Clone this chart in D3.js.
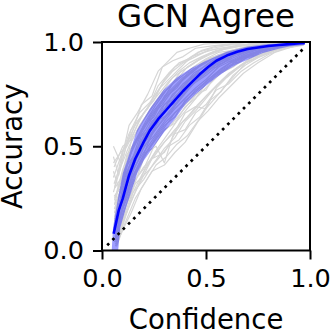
<!DOCTYPE html>
<html>
<head>
<meta charset="utf-8">
<script src="https://cdn.jsdelivr.net/npm/d3@7"></script>
<style>
  html, body { margin: 0; padding: 0; background: #fff; }
  svg { display: block; font-family: "DejaVu Sans", sans-serif; }
</style>
</head>
<body>
<svg id="chart" width="333" height="336"></svg>
<script>
// Reliability curves of individual runs: [confidence, accuracy]
const runCurves = [
  [[0.055,0.50],[0.09,0.42],[0.13,0.60],[0.17,0.66],[0.22,0.75],[0.27,0.86],[0.31,0.90],[0.36,0.95],[0.42,0.97],[0.49,0.99],[0.57,0.995],[0.66,1.0],[0.78,1.0],[0.97,1.0]],
  [[0.06,0.30],[0.1,0.48],[0.14,0.55],[0.19,0.70],[0.24,0.74],[0.29,0.88],[0.34,0.91],[0.39,0.93],[0.45,0.97],[0.52,0.98],[0.6,0.99],[0.7,1.0],[0.82,1.0],[0.97,1.0]],
  [[0.065,0.02],[0.1,0.10],[0.14,0.18],[0.19,0.30],[0.24,0.38],[0.30,0.41],[0.35,0.47],[0.40,0.52],[0.45,0.60],[0.50,0.68],[0.56,0.75],[0.62,0.82],[0.69,0.90],[0.76,0.93],[0.83,0.96],[0.9,0.98],[0.97,0.99]],
  [[0.06,0.05],[0.1,0.20],[0.15,0.32],[0.2,0.40],[0.25,0.45],[0.30,0.52],[0.35,0.58],[0.41,0.64],[0.46,0.70],[0.52,0.76],[0.58,0.82],[0.64,0.87],[0.71,0.92],[0.79,0.95],[0.87,0.97],[0.97,0.99]],
  [[0.055,0.38],[0.08,0.30],[0.12,0.46],[0.16,0.52],[0.21,0.62],[0.26,0.70],[0.31,0.77],[0.36,0.82],[0.41,0.88],[0.47,0.92],[0.53,0.95],[0.6,0.97],[0.68,0.985],[0.78,0.99],[0.9,1.0],[0.97,1.0]],
  [[0.06,0.12],[0.1,0.30],[0.14,0.38],[0.19,0.50],[0.23,0.55],[0.28,0.63],[0.33,0.66],[0.38,0.74],[0.43,0.79],[0.48,0.84],[0.54,0.89],[0.6,0.92],[0.67,0.95],[0.75,0.97],[0.84,0.985],[0.97,0.995]],
  [[0.058,0.20],[0.09,0.22],[0.13,0.40],[0.18,0.47],[0.22,0.58],[0.27,0.64],[0.32,0.70],[0.37,0.75],[0.43,0.83],[0.49,0.86],[0.55,0.92],[0.62,0.94],[0.7,0.97],[0.79,0.98],[0.88,0.99],[0.97,1.0]],
  [[0.065,0.08],[0.11,0.24],[0.16,0.36],[0.21,0.47],[0.26,0.50],[0.30,0.42],[0.34,0.55],[0.39,0.62],[0.44,0.67],[0.5,0.74],[0.56,0.80],[0.62,0.85],[0.69,0.90],[0.77,0.94],[0.86,0.97],[0.97,0.99]],
  [[0.06,0.25],[0.1,0.35],[0.15,0.50],[0.19,0.57],[0.24,0.66],[0.29,0.72],[0.34,0.80],[0.39,0.84],[0.44,0.88],[0.5,0.92],[0.56,0.95],[0.63,0.96],[0.7,0.98],[0.79,0.99],[0.88,0.995],[0.97,1.0]],
  [[0.06,0.15],[0.1,0.28],[0.15,0.44],[0.2,0.51],[0.25,0.58],[0.3,0.68],[0.36,0.71],[0.41,0.79],[0.46,0.83],[0.52,0.88],[0.58,0.90],[0.64,0.94],[0.71,0.96],[0.78,0.975],[0.87,0.99],[0.97,0.995]],
  [[0.06,0.10],[0.1,0.26],[0.15,0.40],[0.2,0.53],[0.25,0.62],[0.3,0.66],[0.35,0.74],[0.4,0.78],[0.45,0.84],[0.5,0.87],[0.55,0.88],[0.6,0.91],[0.65,0.90],[0.70,0.94],[0.75,0.93],[0.8,0.97],[0.88,0.98],[0.97,0.99]],
  [[0.07,0.03],[0.11,0.16],[0.16,0.28],[0.21,0.40],[0.26,0.48],[0.31,0.55],[0.36,0.62],[0.41,0.68],[0.46,0.74],[0.51,0.79],[0.57,0.85],[0.63,0.88],[0.7,0.93],[0.78,0.96],[0.86,0.98],[0.97,0.995]],
  [[0.055,0.45],[0.08,0.36],[0.12,0.52],[0.17,0.62],[0.22,0.68],[0.27,0.79],[0.32,0.85],[0.37,0.90],[0.42,0.92],[0.48,0.96],[0.55,0.98],[0.63,0.99],[0.72,1.0],[0.85,1.0],[0.97,1.0]],
  [[0.06,0.18],[0.1,0.33],[0.14,0.47],[0.18,0.55],[0.23,0.63],[0.28,0.71],[0.33,0.76],[0.38,0.81],[0.44,0.86],[0.49,0.90],[0.55,0.93],[0.62,0.96],[0.69,0.975],[0.77,0.985],[0.86,0.99],[0.97,1.0]],
  [[0.065,0.06],[0.1,0.18],[0.15,0.30],[0.2,0.44],[0.25,0.53],[0.3,0.60],[0.35,0.64],[0.4,0.72],[0.45,0.76],[0.51,0.82],[0.57,0.87],[0.63,0.91],[0.7,0.94],[0.78,0.965],[0.87,0.98],[0.97,0.99]],
  [[0.06,0.22],[0.1,0.38],[0.15,0.45],[0.2,0.60],[0.25,0.64],[0.3,0.74],[0.34,0.78],[0.39,0.83],[0.44,0.86],[0.49,0.91],[0.54,0.93],[0.6,0.95],[0.66,0.94],[0.72,0.965],[0.8,0.975],[0.88,0.99],[0.97,1.0]],
  [[0.06,0.14],[0.1,0.24],[0.15,0.36],[0.2,0.46],[0.24,0.56],[0.29,0.62],[0.34,0.68],[0.39,0.74],[0.44,0.80],[0.5,0.84],[0.56,0.89],[0.62,0.92],[0.69,0.95],[0.77,0.97],[0.86,0.985],[0.97,0.995]],
  [[0.058,0.32],[0.1,0.44],[0.14,0.58],[0.19,0.64],[0.24,0.72],[0.29,0.80],[0.34,0.86],[0.39,0.90],[0.45,0.93],[0.51,0.96],[0.58,0.97],[0.66,0.985],[0.75,0.99],[0.86,1.0],[0.97,1.0]],
  [[0.06,0.04],[0.09,0.12],[0.14,0.26],[0.19,0.36],[0.24,0.44],[0.3,0.47],[0.35,0.56],[0.4,0.58],[0.45,0.66],[0.5,0.70],[0.55,0.77],[0.61,0.80],[0.67,0.86],[0.73,0.90],[0.8,0.94],[0.88,0.97],[0.97,0.99]],
  [[0.06,0.08],[0.1,0.22],[0.15,0.38],[0.2,0.49],[0.25,0.57],[0.3,0.64],[0.35,0.70],[0.4,0.76],[0.45,0.81],[0.5,0.85],[0.56,0.90],[0.62,0.93],[0.68,0.96],[0.76,0.975],[0.85,0.985],[0.97,0.995]],
  [[0.06,0.16],[0.1,0.27],[0.15,0.42],[0.2,0.55],[0.25,0.60],[0.3,0.70],[0.35,0.73],[0.4,0.80],[0.46,0.85],[0.52,0.87],[0.58,0.92],[0.64,0.91],[0.7,0.95],[0.76,0.94],[0.82,0.975],[0.9,0.985],[0.97,0.995]],
  [[0.055,0.28],[0.09,0.40],[0.13,0.50],[0.18,0.60],[0.23,0.67],[0.28,0.74],[0.33,0.79],[0.38,0.86],[0.43,0.89],[0.49,0.93],[0.55,0.955],[0.62,0.975],[0.7,0.985],[0.8,0.995],[0.97,1.0]],
  [[0.065,0.04],[0.1,0.14],[0.15,0.26],[0.2,0.36],[0.25,0.46],[0.3,0.52],[0.35,0.57],[0.4,0.66],[0.45,0.69],[0.5,0.68],[0.55,0.78],[0.6,0.83],[0.66,0.88],[0.73,0.93],[0.81,0.96],[0.9,0.98],[0.97,0.99]],
  [[0.06,0.20],[0.1,0.32],[0.14,0.43],[0.19,0.53],[0.24,0.61],[0.29,0.69],[0.34,0.74],[0.39,0.80],[0.44,0.84],[0.5,0.89],[0.56,0.93],[0.62,0.95],[0.69,0.97],[0.77,0.98],[0.86,0.99],[0.97,1.0]],
  [[0.055,0.42],[0.09,0.47],[0.12,0.50],[0.16,0.58],[0.2,0.66],[0.25,0.72],[0.3,0.82],[0.35,0.88],[0.4,0.91],[0.46,0.95],[0.53,0.97],[0.61,0.985],[0.7,0.99],[0.82,1.0],[0.97,1.0]],
  [[0.06,0.10],[0.1,0.20],[0.14,0.34],[0.18,0.42],[0.23,0.50],[0.28,0.56],[0.33,0.60],[0.38,0.66],[0.43,0.72],[0.48,0.78],[0.54,0.84],[0.6,0.88],[0.67,0.92],[0.75,0.955],[0.84,0.975],[0.97,0.99]],
  [[0.062,0.30],[0.1,0.36],[0.14,0.52],[0.19,0.61],[0.24,0.69],[0.29,0.76],[0.34,0.83],[0.4,0.87],[0.46,0.91],[0.52,0.94],[0.59,0.965],[0.67,0.98],[0.77,0.99],[0.88,1.0],[0.97,1.0]],
  [[0.065,0.05],[0.11,0.20],[0.16,0.32],[0.22,0.38],[0.27,0.44],[0.32,0.50],[0.37,0.53],[0.42,0.60],[0.47,0.64],[0.52,0.72],[0.57,0.76],[0.63,0.84],[0.69,0.89],[0.76,0.93],[0.85,0.965],[0.97,0.985]],
  [[0.058,0.26],[0.09,0.30],[0.13,0.45],[0.17,0.53],[0.21,0.58],[0.26,0.67],[0.31,0.74],[0.36,0.78],[0.41,0.85],[0.46,0.88],[0.51,0.92],[0.57,0.94],[0.64,0.965],[0.72,0.98],[0.83,0.99],[0.97,1.0]],
  [[0.06,0.12],[0.1,0.29],[0.15,0.41],[0.2,0.50],[0.25,0.55],[0.3,0.62],[0.35,0.68],[0.4,0.73],[0.45,0.78],[0.5,0.82],[0.56,0.88],[0.62,0.91],[0.68,0.94],[0.74,0.96],[0.82,0.98],[0.97,0.995]],
  [[0.055,0.35],[0.09,0.45],[0.13,0.56],[0.18,0.66],[0.23,0.71],[0.28,0.78],[0.33,0.83],[0.38,0.88],[0.43,0.93],[0.49,0.95],[0.56,0.97],[0.64,0.98],[0.74,0.995],[0.86,1.0],[0.97,1.0]],
  [[0.065,0.07],[0.1,0.16],[0.15,0.33],[0.2,0.39],[0.25,0.50],[0.3,0.58],[0.35,0.61],[0.4,0.69],[0.45,0.73],[0.5,0.80],[0.55,0.84],[0.61,0.88],[0.67,0.91],[0.74,0.95],[0.83,0.97],[0.97,0.99]],
  [[0.06,0.22],[0.1,0.31],[0.14,0.40],[0.19,0.55],[0.24,0.59],[0.29,0.67],[0.34,0.72],[0.39,0.77],[0.44,0.82],[0.5,0.86],[0.56,0.91],[0.62,0.93],[0.68,0.955],[0.76,0.97],[0.86,0.985],[0.97,0.995]],
  [[0.07,0.02],[0.11,0.13],[0.16,0.25],[0.21,0.33],[0.26,0.41],[0.31,0.45],[0.36,0.51],[0.41,0.55],[0.46,0.62],[0.51,0.67],[0.56,0.73],[0.62,0.79],[0.68,0.85],[0.75,0.90],[0.83,0.95],[0.91,0.975],[0.97,0.99]],
  [[0.058,0.40],[0.1,0.50],[0.14,0.53],[0.18,0.63],[0.23,0.70],[0.28,0.76],[0.32,0.81],[0.37,0.86],[0.42,0.90],[0.48,0.93],[0.55,0.96],[0.62,0.975],[0.71,0.99],[0.83,1.0],[0.97,1.0]],
  [[0.06,0.18],[0.1,0.26],[0.15,0.39],[0.2,0.47],[0.25,0.54],[0.3,0.61],[0.35,0.66],[0.4,0.71],[0.45,0.77],[0.5,0.81],[0.56,0.86],[0.62,0.90],[0.68,0.93],[0.76,0.96],[0.85,0.98],[0.97,0.99]],
  [[0.06,0.16],[0.1,0.34],[0.14,0.42],[0.19,0.52],[0.24,0.62],[0.29,0.66],[0.34,0.75],[0.39,0.79],[0.44,0.85],[0.49,0.88],[0.55,0.92],[0.61,0.95],[0.68,0.96],[0.75,0.98],[0.84,0.99],[0.97,1.0]],
  [[0.065,0.03],[0.1,0.12],[0.15,0.28],[0.2,0.34],[0.25,0.42],[0.3,0.49],[0.35,0.54],[0.4,0.62],[0.45,0.67],[0.5,0.73],[0.55,0.79],[0.61,0.85],[0.67,0.89],[0.73,0.92],[0.8,0.955],[0.88,0.975],[0.97,0.99]],
  [[0.06,0.24],[0.1,0.39],[0.14,0.49],[0.19,0.58],[0.24,0.65],[0.29,0.70],[0.34,0.77],[0.39,0.82],[0.44,0.87],[0.5,0.9],[0.56,0.94],[0.63,0.955],[0.7,0.975],[0.79,0.985],[0.88,0.995],[0.97,1.0]],
  [[0.06,0.09],[0.1,0.21],[0.15,0.35],[0.2,0.45],[0.25,0.52],[0.3,0.59],[0.35,0.66],[0.4,0.70],[0.45,0.75],[0.5,0.77],[0.55,0.85],[0.6,0.87],[0.66,0.92],[0.72,0.93],[0.79,0.965],[0.87,0.98],[0.97,0.99]]
];

// Mean reliability curve
const meanConf = [0.056,0.08,0.10,0.13,0.16,0.20,0.23,0.27,0.31,0.35,0.39,0.43,0.47,0.51,0.55,0.60,0.65,0.70,0.75,0.80,0.85,0.90,0.95,0.975];
const meanAcc  = [0.08,0.19,0.25,0.36,0.44,0.52,0.575,0.63,0.675,0.72,0.765,0.805,0.845,0.88,0.91,0.935,0.953,0.966,0.974,0.981,0.986,0.99,0.994,0.996];

// Spread band: upper (left) edge and lower (right) edge
const bandUpper = [[0.045,-0.03],[0.053,0.11],[0.08,0.27],[0.10,0.37],[0.12,0.43],[0.168,0.577],[0.23,0.68],[0.296,0.77],[0.36,0.83],[0.43,0.875],[0.5,0.91],[0.6,0.953],[0.7,0.978],[0.8,0.99],[0.9,0.995],[0.975,0.998]];
const bandLower = [[0.075,-0.03],[0.088,0.11],[0.12,0.22],[0.144,0.29],[0.17,0.37],[0.2,0.43],[0.25,0.5],[0.3,0.57],[0.35,0.63],[0.4,0.70],[0.45,0.75],[0.5,0.79],[0.55,0.83],[0.6,0.865],[0.65,0.893],[0.7,0.915],[0.77,0.946],[0.85,0.968],[0.9,0.978],[0.975,0.986]];

// Perfect-calibration reference
const diagonal = [[0.025,0.025],[0.975,0.975]];

const tickValues = [0.0, 0.5, 1.0];
const titleText = "GCN Agree";
const xLabel = "Confidence";
const yLabel = "Accuracy";

const margin = { left: 102, right: 23, top: 42, bottom: 85.5 };
const W = 333, H = 336;
const pw = W - margin.left - margin.right;
const ph = H - margin.top - margin.bottom;

const svg = d3.select("#chart");
const x = d3.scaleLinear().domain([0, 1]).range([margin.left, margin.left + pw]);
const y = d3.scaleLinear().domain([0, 1]).range([margin.top + ph, margin.top]);

svg.append("defs").append("clipPath").attr("id", "plotClip")
  .append("rect").attr("x", margin.left).attr("y", margin.top).attr("width", pw).attr("height", ph);

const plot = svg.append("g").attr("clip-path", "url(#plotClip)");
const line = d3.line().x(d => x(d[0])).y(d => y(d[1]));

// individual runs
plot.selectAll("path.run").data(runCurves).join("path")
  .attr("class", "run")
  .attr("d", line)
  .attr("fill", "none")
  .attr("stroke", "#d6d6d6")
  .attr("stroke-width", 1.2)
  .attr("stroke-linejoin", "round");

// spread band
const bandPoly = bandUpper.concat(bandLower.slice().reverse());
plot.append("path")
  .attr("d", line(bandPoly) + "Z")
  .attr("fill", "#0000ff")
  .attr("fill-opacity", 0.38)
  .attr("stroke", "none");

// mean curve
plot.append("path")
  .attr("d", line(meanConf.map((c, i) => [c, meanAcc[i]])))
  .attr("fill", "none")
  .attr("stroke", "#0000ff")
  .attr("stroke-width", 2.6)
  .attr("stroke-linejoin", "round");

// diagonal
plot.append("path")
  .attr("d", line(diagonal))
  .attr("fill", "none")
  .attr("stroke", "#000")
  .attr("stroke-width", 2.7)
  .attr("stroke-dasharray", "2.7,4.7");

// axes
const xAxis = d3.axisBottom(x).tickValues(tickValues).tickFormat(d3.format(".1f")).tickSize(9).tickPadding(9);
const yAxis = d3.axisLeft(y).tickValues(tickValues).tickFormat(d3.format(".1f")).tickSize(9).tickPadding(9);

const gx = svg.append("g").attr("transform", `translate(0,${margin.top + ph})`).call(xAxis);
const gy = svg.append("g").attr("transform", `translate(${margin.left},0)`).call(yAxis);
[gx, gy].forEach(g => {
  g.select(".domain").remove();
  g.selectAll(".tick line").attr("stroke", "#000").attr("stroke-width", 2);
  g.selectAll(".tick text").attr("fill", "#000").style("font-size", "25.6px").style("font-family", "DejaVu Sans");
});

// frame
svg.append("rect")
  .attr("x", margin.left).attr("y", margin.top).attr("width", pw).attr("height", ph)
  .attr("fill", "none").attr("stroke", "#000").attr("stroke-width", 2);

// titles
svg.append("text").attr("x", margin.left + pw / 2).attr("y", 26.5)
  .attr("text-anchor", "middle").style("font-size", "32.5px").text(titleText);
svg.append("text").attr("x", margin.left + pw / 2).attr("y", 329)
  .attr("text-anchor", "middle").style("font-size", "27.5px").text(xLabel);
svg.append("text")
  .attr("transform", `translate(22,${margin.top + ph / 2}) rotate(-90)`)
  .attr("text-anchor", "middle").style("font-size", "27.5px").text(yLabel);
</script>
</body>
</html>
